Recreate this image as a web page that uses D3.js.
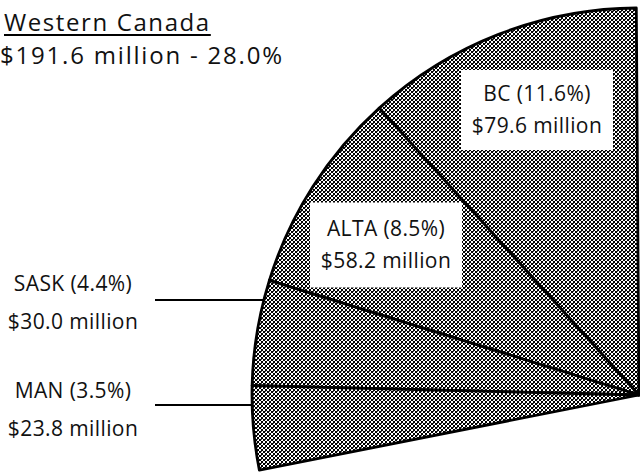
<!DOCTYPE html>
<html>
<head>
<meta charset="utf-8">
<script src="https://cdn.jsdelivr.net/npm/d3@7/dist/d3.min.js"></script>
<style>
    body { margin: 0; background: #fff; }
    svg text { font-family: "Open Sans", "DejaVu Sans", sans-serif; fill: #111; }
</style>
</head>
<body>
<div id="chart_container"></div>
<script>
(function() {
    'use strict';

    // chart values
    var regionName = "Western Canada";
    var regionTotal = 191.6;   // $ million
    var regionShare = 28.0;    // % of all
    var provinces = ["BC", "ALTA", "SASK", "MAN"];
    var shares = [11.6, 8.5, 4.4, 3.5];
    var amounts = [79.6, 58.2, 30.0, 23.8];

    var width = 640;
    var height = 476;
    var cx = 639, cy = 395, radius = 387;
    var rotation = -0.4 * Math.PI / 180;   // wedge starts just left of 12 o'clock

    var text_size = 21;
    var title_size = 24;

    // where each province label goes: inside box or outside with a leader
    var labelLayout = {
        "BC":   { kind: "box", x: 537, y: 110, w: 152, h: 80 },
        "ALTA": { kind: "box", x: 386, y: 245, w: 152, h: 85 },
        "SASK": { kind: "leader", x: 73, y: 291, lineY: 300, lineX: 155 },
        "MAN":  { kind: "leader", x: 73, y: 398, lineY: 405, lineX: 155 }
    };

    var svg = d3.select("#chart_container").append("svg")
        .attr("width", width)
        .attr("height", height);

    // dithered grey fill like the print
    var defs = svg.append("defs");
    var pat = defs.append("pattern")
        .attr("id", "dither")
        .attr("patternUnits", "userSpaceOnUse")
        .attr("width", 4)
        .attr("height", 4);
    pat.append("rect").attr("width", 4).attr("height", 4).attr("fill", "#fff");
    pat.append("rect").attr("width", 2).attr("height", 2).attr("fill", "#000");
    pat.append("rect").attr("x", 2).attr("y", 2).attr("width", 2).attr("height", 2).attr("fill", "#000");
    pat.append("rect").attr("x", 2).attr("y", 0).attr("width", 1).attr("height", 1).attr("fill", "#555");

    var data = provinces.map(function(p, i) {
        return { name: p, share: shares[i], amount: amounts[i] };
    });

    // the region is a 28% wedge of the national pie, drawn counter-clockwise from 12 o'clock
    var angle = d3.scaleLinear().domain([0, 100]).range([0, -2 * Math.PI]);

    var pie = d3.pie()
        .sort(null)
        .value(function(d) { return d.share; })
        .startAngle(rotation)
        .endAngle(rotation + angle(d3.sum(shares)));

    var arc = d3.arc()
        .innerRadius(0)
        .outerRadius(radius);

    var g = svg.append("g")
        .attr("transform", "translate(" + cx + "," + cy + ")");

    g.selectAll("path.slice")
        .data(pie(data))
        .enter().append("path")
        .attr("class", "slice")
        .attr("d", arc)
        .style("fill", "url(#dither)")
        .style("stroke", "#000")
        .style("stroke-width", 2.8)
        .style("stroke-linejoin", "round");

    // labels
    function fmtShare(d) { return d.name + " (" + d.share.toFixed(1) + "%)"; }
    function fmtAmount(d) { return "$" + d.amount.toFixed(1) + " million"; }

    data.forEach(function(d) {
        var L = labelLayout[d.name];
        if (L.kind === "box") {
            svg.append("rect")
                .attr("x", L.x - L.w / 2)
                .attr("y", L.y - L.h / 2)
                .attr("width", L.w)
                .attr("height", L.h)
                .style("fill", "#fff");
            svg.append("text")
                .attr("x", L.x)
                .attr("y", L.y - 9)
                .style("text-anchor", "middle")
                .style("font-size", text_size + "px")
                .style("letter-spacing", "0.4px")
                .text(fmtShare(d));
            svg.append("text")
                .attr("x", L.x)
                .attr("y", L.y + 23)
                .style("text-anchor", "middle")
                .style("font-size", text_size + "px")
                .style("letter-spacing", "0.4px")
                .text(fmtAmount(d));
        } else {
            var dy = L.lineY - cy;
            var edgeX = cx - Math.sqrt(radius * radius - dy * dy);
            svg.append("line")
                .attr("x1", L.lineX)
                .attr("x2", edgeX)
                .attr("y1", L.lineY)
                .attr("y2", L.lineY)
                .style("stroke", "#000")
                .style("stroke-width", 2);
            svg.append("text")
                .attr("x", L.x)
                .attr("y", L.y)
                .style("text-anchor", "middle")
                .style("font-size", text_size + "px")
                .style("letter-spacing", "0.4px")
                .text(fmtShare(d));
            svg.append("text")
                .attr("x", L.x)
                .attr("y", L.y + 38)
                .style("text-anchor", "middle")
                .style("font-size", text_size + "px")
                .style("letter-spacing", "0.4px")
                .text(fmtAmount(d));
        }
    });

    // title
    var title = svg.append("text")
        .attr("x", 4)
        .attr("y", 31)
        .style("font-size", title_size + "px")
        .style("letter-spacing", "1.6px")
        .text(regionName);
    var tw = title.node().getComputedTextLength();
    svg.append("line")
        .attr("x1", 4)
        .attr("x2", 4 + tw)
        .attr("y1", 35)
        .attr("y2", 35)
        .style("stroke", "#000")
        .style("stroke-width", 2);

    svg.append("text")
        .attr("x", 0)
        .attr("y", 64)
        .style("font-size", title_size + "px")
        .style("letter-spacing", "1.8px")
        .text("$" + regionTotal.toFixed(1) + " million - " + regionShare.toFixed(1) + "%");

    log("slices: " + data.length);

    function log(text) {
        console.log("::WedgeChart::", text);
    }
}());
</script>
</body>
</html>
